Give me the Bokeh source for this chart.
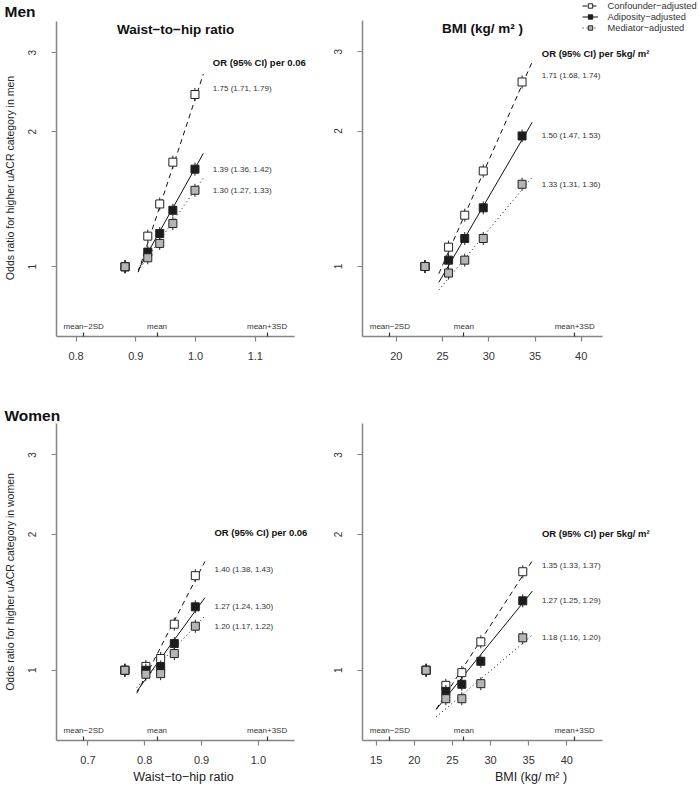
import math
from bokeh.plotting import figure
from bokeh.layouts import column, row
from bokeh.models import FixedTicker, Label, Legend, LegendItem, Range1d, PrintfTickFormatter
from bokeh.embed import file_html
from bokeh.resources import INLINE

FONT = "Liberation Sans"
MINUS = "\u2212"

# ------------------------------------------------------------------ data
series_names = [f"Confounder{MINUS}adjusted", f"Adiposity{MINUS}adjusted", f"Mediator{MINUS}adjusted"]
mean_labels = [f"mean{MINUS}2SD", "mean", "mean+3SD"]
y_ticks = [1, 2, 3]

# Men - waist-to-hip ratio
men_whr_x = [0.882, 0.920, 0.940, 0.962, 0.999]
men_whr_conf = [1.00, 1.17, 1.38, 1.71, 2.42]
men_whr_adip = [1.00, 1.078, 1.186, 1.336, 1.65]
men_whr_med = [1.00, 1.047, 1.127, 1.248, 1.48]
men_whr_or = [1.75, 1.39, 1.30]
men_whr_or_text = ["1.75 (1.71, 1.79)", "1.39 (1.36, 1.42)", "1.30 (1.27, 1.33)"]
men_whr_unit = 0.06
men_whr_ref = [0.907, 0.907, 0.909]      # exposure where fitted OR = 1
men_whr_fit_x = [0.904, 1.013]
men_whr_mean, men_whr_sd = 0.9355, 0.0614
men_whr_ticks = [0.8, 0.9, 1.0, 1.1]
men_whr_header_or = 2.85

# Men - BMI
men_bmi_x = [23.1, 25.65, 27.4, 29.4, 33.6]
men_bmi_conf = [1.00, 1.104, 1.30, 1.63, 2.57]
men_bmi_adip = [1.00, 1.033, 1.154, 1.35, 1.95]
men_bmi_med = [1.00, 0.967, 1.033, 1.154, 1.523]
men_bmi_or = [1.71, 1.50, 1.33]
men_bmi_or_text = ["1.71 (1.68, 1.74)", "1.50 (1.47, 1.53)", "1.33 (1.31, 1.36)"]
men_bmi_unit = 5.0
men_bmi_ref = [24.94, 25.6, 26.7]
men_bmi_fit_x = [24.6, 34.7]
men_bmi_mean, men_bmi_sd = 27.3, 4.0
men_bmi_ticks = [20, 25, 30, 35, 40]
men_bmi_header_or = 2.98

# Women - waist-to-hip ratio
wom_whr_x = [0.765, 0.802, 0.828, 0.852, 0.889]
wom_whr_conf = [1.00, 1.02, 1.062, 1.265, 1.62]
wom_whr_adip = [1.00, 1.00, 1.017, 1.146, 1.382]
wom_whr_med = [1.00, 0.98, 0.983, 1.089, 1.252]
wom_whr_or = [1.40, 1.27, 1.20]
wom_whr_or_text = ["1.40 (1.38, 1.43)", "1.27 (1.24, 1.30)", "1.20 (1.17, 1.22)"]
wom_whr_unit = 0.06
wom_whr_ref = [0.807, 0.813, 0.815]
wom_whr_fit_x = [0.786, 0.906]
wom_whr_mean, wom_whr_sd = 0.8216, 0.0646
wom_whr_ticks = [0.7, 0.8, 0.9, 1.0]
wom_whr_header_or = 2.02

# Women - BMI
wom_bmi_x = [21.55, 24.14, 26.24, 28.73, 34.23]
wom_bmi_conf = [1.00, 0.926, 0.988, 1.156, 1.653]
wom_bmi_adip = [1.00, 0.898, 0.931, 1.047, 1.425]
wom_bmi_med = [1.00, 0.865, 0.865, 0.934, 1.18]
wom_bmi_or = [1.35, 1.27, 1.18]
wom_bmi_or_text = ["1.35 (1.33, 1.37)", "1.27 (1.25, 1.29)", "1.18 (1.16, 1.20)"]
wom_bmi_unit = 5.0
wom_bmi_ref = [26.18, 27.05, 30.06]
wom_bmi_fit_x = [22.87, 35.5]
wom_bmi_mean, wom_bmi_sd = 26.5, 4.85
wom_bmi_ticks = [15, 20, 25, 30, 35, 40]
wom_bmi_header_or = 2.01

# ------------------------------------------------------------------ styling
Y_LO, Y_HI = 0.699, 3.52
AXIS_W, AXIS_H_TOP, AXIS_H_BOT = 240, 316, 317
AXIS_COL = "#858585"
TEXT_COL = "#333333"
STYLES = [
    dict(dash="5 4", fill="#ffffff"),
    dict(dash="solid", fill="#1c1c1c"),
    dict(dash="1 3", fill="#b5b5b5"),
]
WHR_TITLE = f"Waist{MINUS}to{MINUS}hip ratio"
BMI_TITLE = "BMI (kg/ m\u00b2 )"


def panel(x, series, ors, or_text, unit, refs, fit_x, mean, sd, ticks, header_or, header,
          fmt, width, height, bl, bt, bb, axis_h, title=None, ylabel=None,
          xlabel=None, legend=False, corner=None):
    x_lo, x_hi = mean - 2.74 * sd, mean + 3.75 * sd
    frame_w = width - bl
    frame_h = height - bt - bb
    # the frame reaches past the axis box (right / top) so texts are not clipped
    x_end = x_lo + (x_hi - x_lo) * frame_w / AXIS_W
    lr = math.log(Y_HI) - math.log(Y_LO)
    y_end = math.exp(math.log(Y_LO) + lr * frame_h / axis_h)
    p = figure(width=width, height=height,
               x_range=Range1d(x_lo, x_end), y_range=Range1d(Y_LO, y_end),
               y_axis_type="log", output_backend="svg", toolbar_location=None,
               min_border_left=bl, min_border_right=0,
               min_border_top=bt, min_border_bottom=bb)
    p.outline_line_color = None
    p.grid.visible = False
    p.background_fill_color = "white"

    if corner:
        p.title.text = corner
        p.title.align = "left"
        p.title.offset = 2 - bl
        p.title.standoff = 0
        p.title.text_font = FONT
        p.title.text_font_size = "15.5px"
        p.title.text_font_style = "bold"
        p.title.text_color = "#111111"
        p.title.vertical_align = "bottom"

    for ax in (p.xaxis[0], p.yaxis[0]):
        ax.axis_line_color = AXIS_COL
        ax.axis_line_width = 1.5
        ax.major_tick_line_color = AXIS_COL
        ax.major_tick_line_width = 1.2
        ax.major_tick_in = 0
        ax.major_tick_out = 5
        ax.major_label_text_font = FONT
        ax.major_label_text_color = TEXT_COL
        ax.axis_label_text_font = FONT
        ax.axis_label_text_font_style = "normal"
        ax.axis_label_text_color = "#222222"

    xa = p.xaxis[0]
    xa.bounds = (x_lo, x_hi)
    xa.ticker = FixedTicker(ticks=ticks, minor_ticks=[mean - 2 * sd, mean, mean + 3 * sd])
    xa.minor_tick_in = 4
    xa.minor_tick_out = 0
    xa.minor_tick_line_color = "#333333"
    xa.minor_tick_line_width = 1.2
    xa.major_label_text_font_size = "11px"
    xa.major_label_standoff = 10
    xa.formatter = PrintfTickFormatter(format=fmt)
    if xlabel:
        xa.axis_label = xlabel
        xa.axis_label_text_font_size = "12.5px"
        xa.axis_label_standoff = 3

    ya = p.yaxis[0]
    ya.bounds = (Y_LO, Y_HI)
    ya.ticker = FixedTicker(ticks=y_ticks, minor_ticks=[])
    ya.formatter = PrintfTickFormatter(format="%d")
    ya.major_label_orientation = "vertical"
    ya.major_label_text_font_size = "10px"
    ya.major_label_standoff = 15
    ya.minor_tick_in = 0
    ya.minor_tick_out = 0
    if ylabel:
        ya.axis_label = ylabel
        ya.axis_label_text_font_size = "10.5px"
        ya.axis_label_standoff = 10

    # fitted lines
    line_rs = []
    for k in range(3):
        b = math.log(ors[k]) / unit
        ys = [math.exp(b * (xv - refs[k])) for xv in fit_x]
        r = p.line(fit_x, ys, line_color="#111111", line_width=1,
                   line_dash=STYLES[k]["dash"])
        line_rs.append(r)

    # points with small whiskers
    pt_rs = []
    for k in range(3):
        p.scatter(x, series[k], marker="dash", angle=math.pi / 2, size=13,
                  line_color="#222222", line_width=1)
        r = p.scatter(x, series[k], marker="square", size=8,
                      fill_color=STYLES[k]["fill"], line_color="#222222", line_width=1)
        pt_rs.append(r)

    # OR labels
    for k in range(3):
        p.add_layout(Label(x=fit_x[-1], y=series[k][-1], x_offset=9.5,
                           y_offset=6 if k == 0 else 0, text=or_text[k],
                           text_font=FONT, text_font_size="8px", text_color=TEXT_COL,
                           text_baseline="middle"))
    p.add_layout(Label(x=fit_x[-1], y=header_or, x_offset=9.5, text=header,
                       text_font=FONT, text_font_size="9.5px", text_font_style="bold",
                       text_color="#111111", text_baseline="middle"))

    # mean / SD markers
    for xv, lab in zip([mean - 2 * sd, mean, mean + 3 * sd], mean_labels):
        p.add_layout(Label(x=xv, y=Y_LO, y_offset=10.5, text=lab, text_font=FONT,
                           text_font_size="8px", text_color=TEXT_COL,
                           text_align="center", text_baseline="middle"))

    if title:
        p.add_layout(Label(x=(x_lo + x_hi) / 2, y=Y_HI, y_offset=-8,
                           text=title, text_font=FONT, text_font_size="13.5px",
                           text_font_style="bold", text_color="#111111",
                           text_align="center", text_baseline="alphabetic"))
    if legend:
        items = [LegendItem(label=series_names[k], renderers=[line_rs[k], pt_rs[k]])
                 for k in range(3)]
        lg = Legend(items=items, location=(219.5, frame_h - 33), orientation="vertical",
                    label_text_font=FONT, label_text_font_size="9.3px",
                    label_text_color=TEXT_COL, glyph_width=16, glyph_height=11,
                    label_height=11, label_standoff=10, spacing=0, padding=0, margin=0,
                    border_line_color=None, background_fill_alpha=0)
        p.add_layout(lg)
    return p


W1, W2 = 310, 389
p1 = panel(men_whr_x, [men_whr_conf, men_whr_adip, men_whr_med], men_whr_or, men_whr_or_text,
           men_whr_unit, men_whr_ref, men_whr_fit_x, men_whr_mean, men_whr_sd, men_whr_ticks,
           men_whr_header_or, "OR (95% CI) per 0.06", "%.1f",
           W1, 390, 54, 18, 54, AXIS_H_TOP, title=WHR_TITLE, corner="Men",
           ylabel="Odds ratio for higher uACR category in men")
p2 = panel(men_bmi_x, [men_bmi_conf, men_bmi_adip, men_bmi_med], men_bmi_or, men_bmi_or_text,
           men_bmi_unit, men_bmi_ref, men_bmi_fit_x, men_bmi_mean, men_bmi_sd, men_bmi_ticks,
           men_bmi_header_or, "OR (95% CI) per 5kg/ m\u00b2", "%d",
           W2, 390, 52, 0, 54, AXIS_H_TOP, title=BMI_TITLE, legend=True)
p3 = panel(wom_whr_x, [wom_whr_conf, wom_whr_adip, wom_whr_med], wom_whr_or, wom_whr_or_text,
           wom_whr_unit, wom_whr_ref, wom_whr_fit_x, wom_whr_mean, wom_whr_sd, wom_whr_ticks,
           wom_whr_header_or, "OR (95% CI) per 0.06", "%.1f",
           W1, 396, 54, 33, 46, AXIS_H_BOT, corner="Women",
           ylabel="Odds ratio for higher uACR category in women", xlabel=WHR_TITLE)
p4 = panel(wom_bmi_x, [wom_bmi_conf, wom_bmi_adip, wom_bmi_med], wom_bmi_or, wom_bmi_or_text,
           wom_bmi_unit, wom_bmi_ref, wom_bmi_fit_x, wom_bmi_mean, wom_bmi_sd, wom_bmi_ticks,
           wom_bmi_header_or, "OR (95% CI) per 5kg/ m\u00b2", "%d",
           W2, 396, 52, 33, 46, AXIS_H_BOT, xlabel=BMI_TITLE)

# each figure sits in its own column so the rows do not re-align their frames
layout = column(row(column(p1), column(p2)), row(column(p3), column(p4)))
open("out.html", "w").write(file_html(layout, INLINE))
